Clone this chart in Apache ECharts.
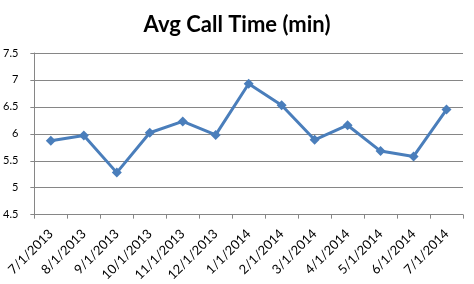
<!DOCTYPE html>
<html><head><meta charset="utf-8">
<script src="https://cdn.jsdelivr.net/npm/echarts@6/dist/echarts.min.js"></script>
<style>html,body{margin:0;padding:0;background:#fff}#c{width:474px;height:284px}</style>
</head><body><div id="c"></div>
<script>
const categories = ['7/1/2013','8/1/2013','9/1/2013','10/1/2013','11/1/2013','12/1/2013','1/1/2014','2/1/2014','3/1/2014','4/1/2014','5/1/2014','6/1/2014','7/1/2014'];
const avgCallTime = [5.87,5.97,5.28,6.02,6.23,5.98,6.93,6.53,5.89,6.16,5.68,5.58,6.45];
const yMin = 4.5, yMax = 7.5, yStep = 0.5;

const chart = echarts.init(document.getElementById('c'), null, {renderer:'canvas'});
chart.setOption({
  animation:false,
  title:{text:'Avg Call Time (min)', left:'center', top:9,
    textStyle:{fontFamily:'Lato', fontWeight:'bold', fontSize:22, color:'#000'}},
  grid:{left:34, right:11, top:53, bottom:68, containLabel:false},
  xAxis:{type:'category', data:categories, boundaryGap:true,
    axisLine:{lineStyle:{color:'#868686'}},
    axisTick:{show:true, length:4, lineStyle:{color:'#868686'}},
    axisLabel:{rotate:45, fontFamily:'Lato', fontSize:13, color:'#000', margin:17, interval:0}},
  yAxis:{type:'value', min:yMin, max:yMax, interval:yStep,
    axisLine:{show:true, lineStyle:{color:'#868686'}},
    axisTick:{show:true, length:4, lineStyle:{color:'#868686'}},
    splitLine:{lineStyle:{color:'#868686'}},
    axisLabel:{fontFamily:'Lato', fontSize:11, color:'#000', margin:16,
      formatter:v=>String(v)}},
  series:[{type:'line', data:avgCallTime, symbol:'diamond', symbolSize:10,
    lineStyle:{color:'#4A7EBB', width:3}, itemStyle:{color:'#4A7EBB'}}]
});
</script></body></html>
